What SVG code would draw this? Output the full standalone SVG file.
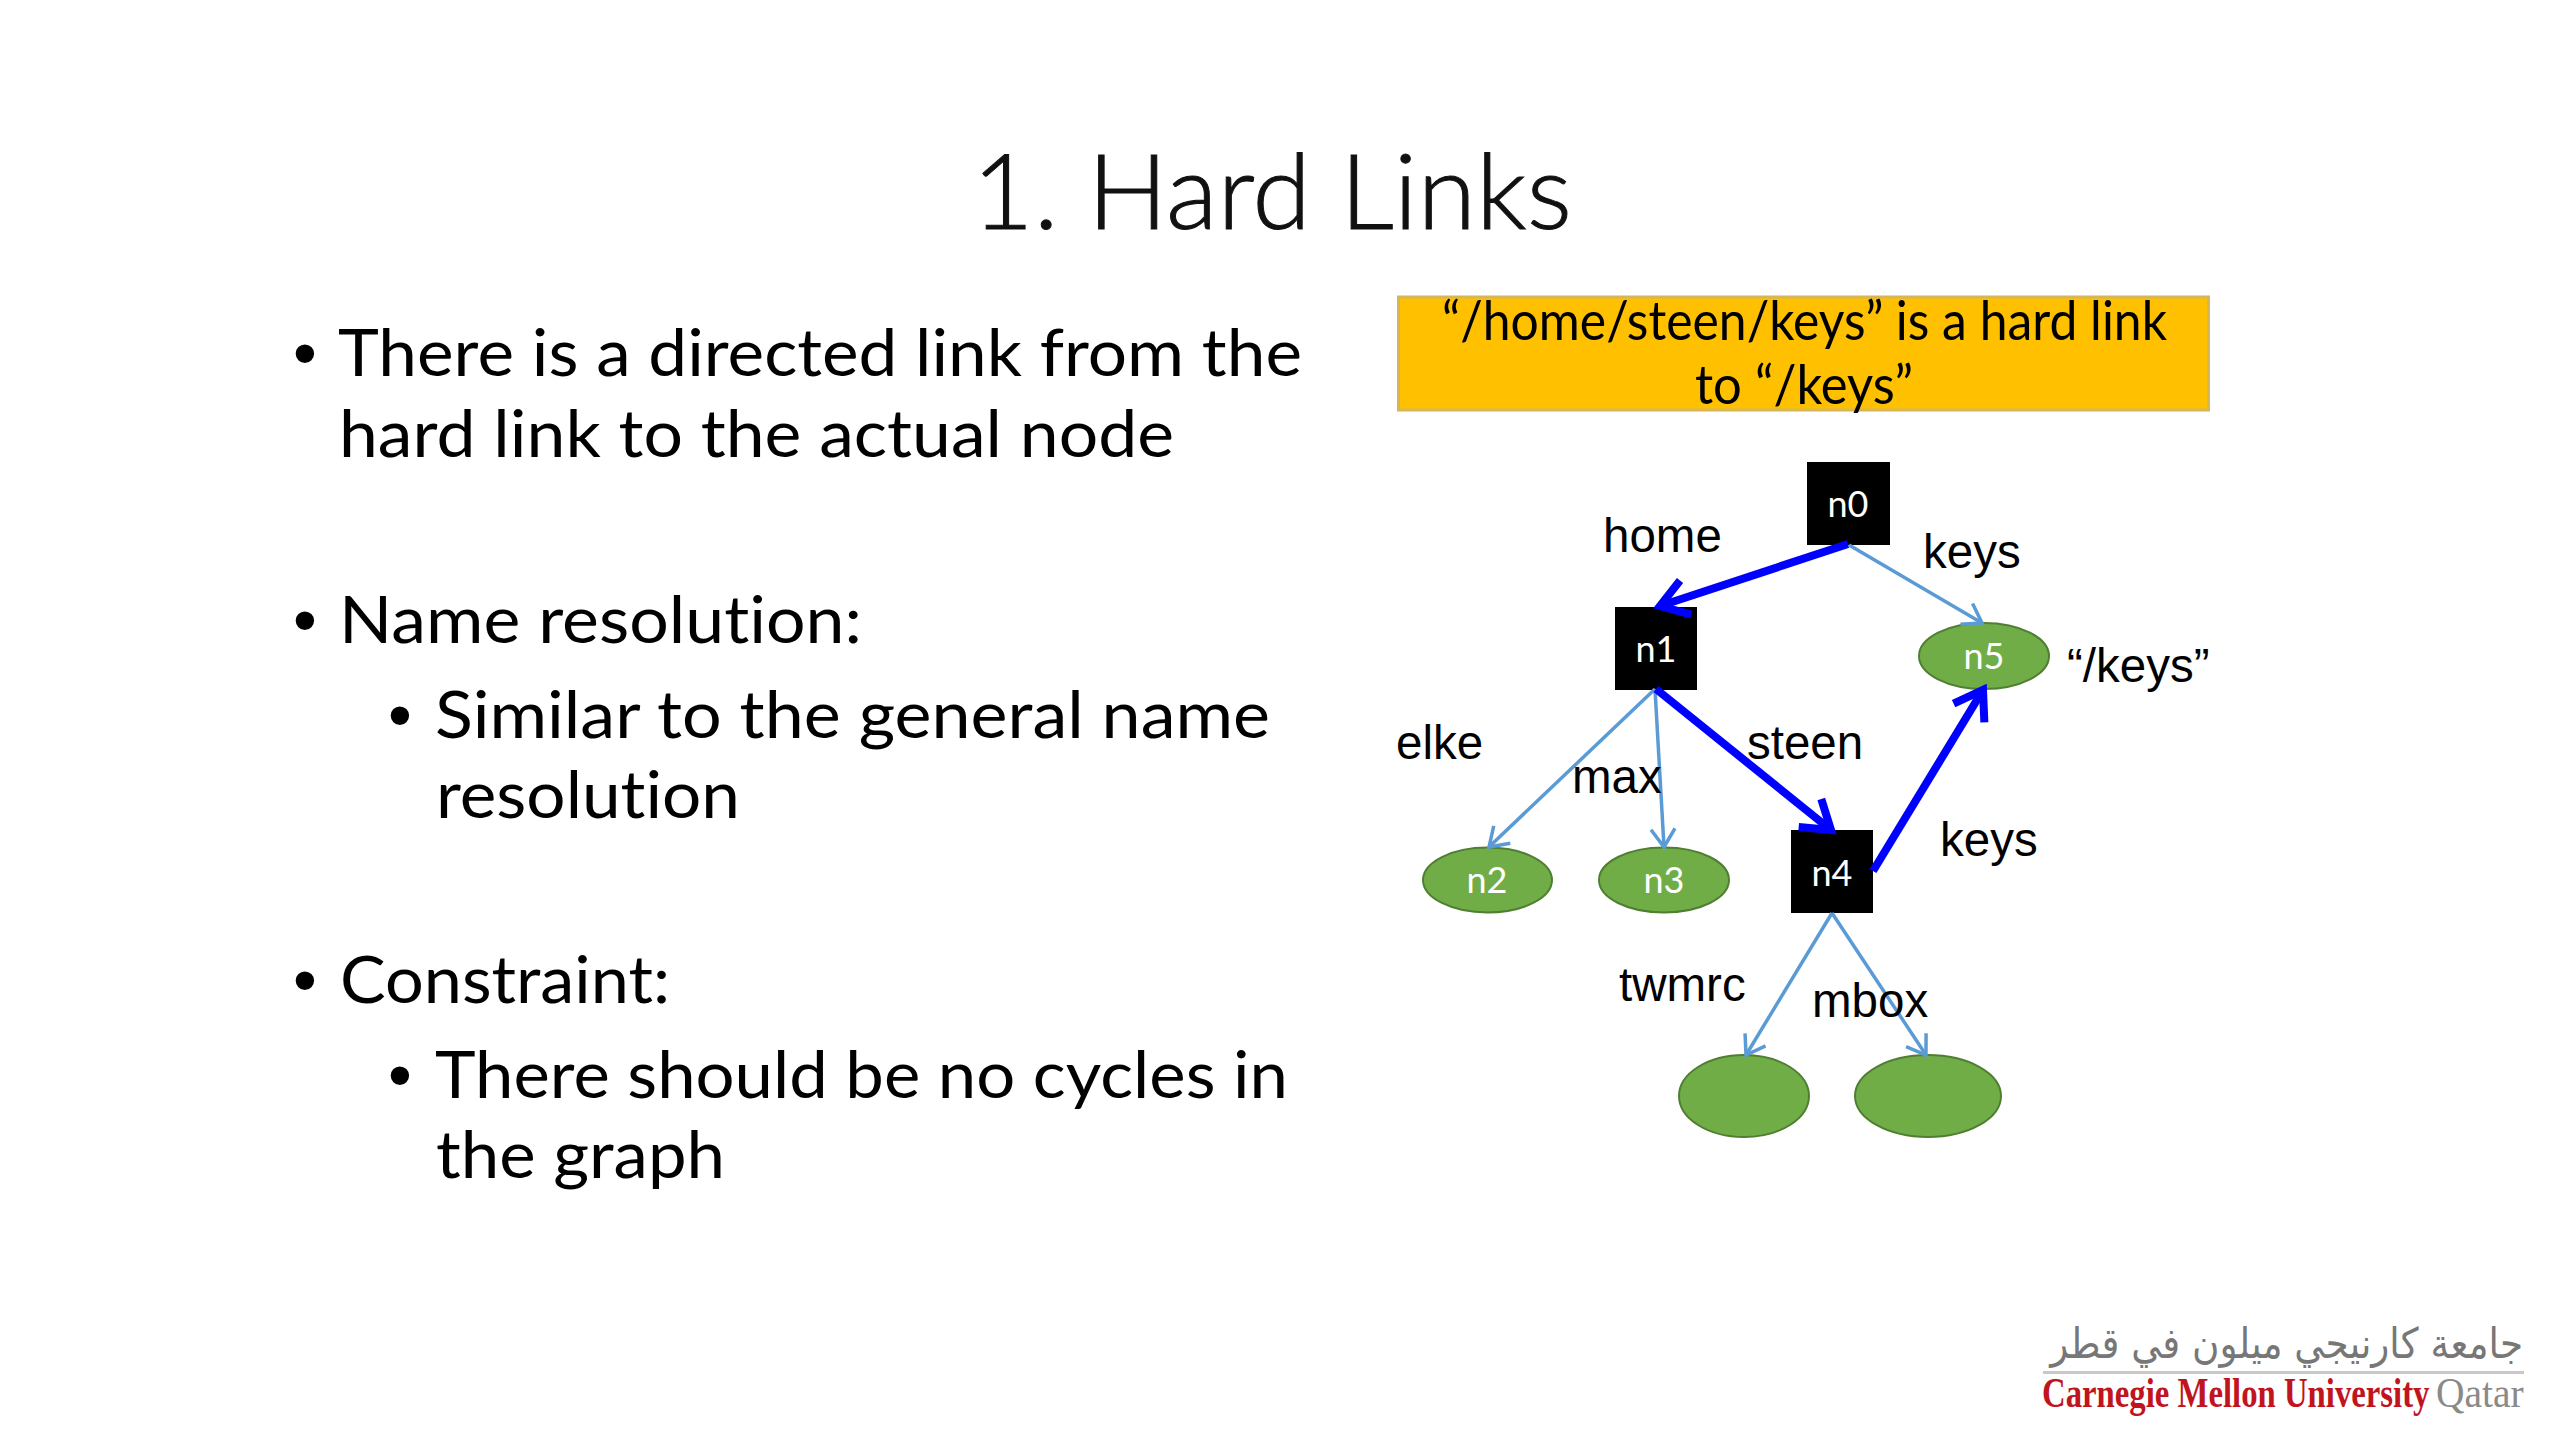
<svg xmlns="http://www.w3.org/2000/svg" width="2560" height="1440" viewBox="0 0 2560 1440">
<style>
.t{font-family:"Lato","Open Sans",sans-serif;fill:#000;font-variant-ligatures:none}
.title{font-size:104px;font-weight:300;fill:#111;stroke:#111;stroke-width:1}
.b{font-size:66px}
.bu{font-family:"Liberation Sans",Arial,sans-serif;font-size:68px;fill:#000;text-anchor:middle}
.ban{font-size:54px}
.e{font-family:"Liberation Sans",Arial,sans-serif;font-size:47.500px;fill:#000}
.nl{font-family:"Lato","Open Sans",sans-serif;font-size:36px;fill:#fff;text-anchor:middle}
.sq{fill:#000}
.el{fill:#70AD47;stroke:#507E32;stroke-width:2}
.thin{fill:none;stroke:#5B9BD5;stroke-width:3.500}
.thick{fill:none;stroke:#0000FF;stroke-width:8}
</style>
<defs>
<marker id="ah" markerUnits="userSpaceOnUse" markerWidth="40" markerHeight="40" refX="30" refY="20" orient="auto" overflow="visible"><path d="M12,8 L30,20 L12,32" fill="none" stroke="#5B9BD5" stroke-width="3.500"/></marker>
<marker id="ak" markerUnits="userSpaceOnUse" markerWidth="60" markerHeight="60" refX="45" refY="30" orient="auto" overflow="visible"><path d="M18,12 L45,30 L18,48" fill="none" stroke="#0000FF" stroke-width="8"/></marker>
</defs>
<rect width="2560" height="1440" fill="#fff"/>
<g id="title"><text class="t title" x="972" y="229" textLength="600" lengthAdjust="spacingAndGlyphs">1. Hard Links</text></g>
<g id="body">
<text class="bu" x="305" y="376">•</text><text class="t b" x="338" y="376" textLength="964" lengthAdjust="spacingAndGlyphs">There is a directed link from the</text>
<text class="t b" x="339" y="457" textLength="835" lengthAdjust="spacingAndGlyphs">hard link to the actual node</text>
<text class="bu" x="305" y="643">•</text><text class="t b" x="339" y="643" textLength="523" lengthAdjust="spacingAndGlyphs">Name resolution:</text>
<text class="bu" x="400" y="738">•</text><text class="t b" x="435" y="738" textLength="835" lengthAdjust="spacingAndGlyphs">Similar to the general name</text>
<text class="t b" x="436" y="818" textLength="304" lengthAdjust="spacingAndGlyphs">resolution</text>
<text class="bu" x="305" y="1003">•</text><text class="t b" x="340" y="1003" textLength="330" lengthAdjust="spacingAndGlyphs">Constraint:</text>
<text class="bu" x="400" y="1098">•</text><text class="t b" x="435" y="1098" textLength="853" lengthAdjust="spacingAndGlyphs">There should be no cycles in</text>
<text class="t b" x="436" y="1178" textLength="289" lengthAdjust="spacingAndGlyphs">the graph</text>
</g>
<g id="banner">
<rect x="1398.500" y="297" width="810" height="113" fill="#FFC000" stroke="#D6B656" stroke-width="3"/>
<text class="t ban" x="1442" y="340" textLength="725" lengthAdjust="spacingAndGlyphs">“/home/steen/keys” is a hard link</text>
<text class="t ban" x="1695" y="404" textLength="218" lengthAdjust="spacingAndGlyphs">to “/keys”</text>
</g>
<g id="n0"><rect class="sq" x="1807" y="462" width="83" height="83"/><text class="nl" x="1848" y="517">n0</text></g>
<g id="n1"><rect class="sq" x="1615" y="607" width="82" height="83"/><text class="nl" x="1656" y="662">n1</text></g>
<g id="n4"><rect class="sq" x="1791" y="830" width="82" height="83"/><text class="nl" x="1832" y="886">n4</text></g>
<g id="n5"><ellipse class="el" cx="1984" cy="656" rx="65" ry="33"/><text class="nl" x="1984" y="669">n5</text></g>
<g id="n2"><ellipse class="el" cx="1487.500" cy="880" rx="64.500" ry="32.500"/><text class="nl" x="1487" y="893">n2</text></g>
<g id="n3"><ellipse class="el" cx="1664" cy="880" rx="65" ry="32.500"/><text class="nl" x="1664" y="893">n3</text></g>
<g id="leaf1"><ellipse class="el" cx="1744" cy="1096" rx="65" ry="41"/></g>
<g id="leaf2"><ellipse class="el" cx="1928" cy="1096" rx="73" ry="41"/></g>
<g id="connectors">
<line class="thick" x1="1848" y1="544" x2="1660" y2="606" marker-end="url(#ak)"/>
<line class="thin" x1="1849" y1="545" x2="1982" y2="623" marker-end="url(#ah)"/>
<line class="thin" x1="1655" y1="689" x2="1489" y2="847" marker-end="url(#ah)"/>
<line class="thin" x1="1655" y1="689" x2="1664" y2="847" marker-end="url(#ah)"/>
<line class="thick" x1="1656" y1="689" x2="1831" y2="830" marker-end="url(#ak)"/>
<line class="thick" x1="1873" y1="871" x2="1983" y2="690" marker-end="url(#ak)"/>
<line class="thin" x1="1832" y1="913" x2="1746" y2="1055" marker-end="url(#ah)"/>
<line class="thin" x1="1832" y1="913" x2="1926" y2="1055" marker-end="url(#ah)"/>
</g>
<g id="edge-labels">
<text class="e" x="1603" y="552">home</text>
<text class="e" x="1923" y="568">keys</text>
<text class="e" x="2067" y="682">“/keys”</text>
<text class="e" x="1396" y="759">elke</text>
<text class="e" x="1572" y="793">max</text>
<text class="e" x="1747" y="759">steen</text>
<text class="e" x="1940" y="856">keys</text>
<text class="e" x="1619" y="1001">twmrc</text>
<text class="e" x="1812" y="1017">mbox</text>
</g>
<g id="logo">
<text transform="translate(2523,1358) scale(.89,1)" text-anchor="end" font-family="DejaVu Sans,sans-serif" font-size="42" fill="#777">جامعة كارنيجي ميلون في قطر</text>
<rect x="2043" y="1371" width="481" height="3" fill="#c8c8c8"/>
<text transform="translate(2042,1407) scale(.78,1)" font-family="Liberation Serif,serif" font-weight="700" font-size="42" fill="#C0141E">Carnegie Mellon University</text>
<text transform="translate(2436,1407) scale(.94,1)" font-family="Liberation Serif,serif" font-size="42" fill="#8a8a8a">Qatar</text>
</g>
</svg>
